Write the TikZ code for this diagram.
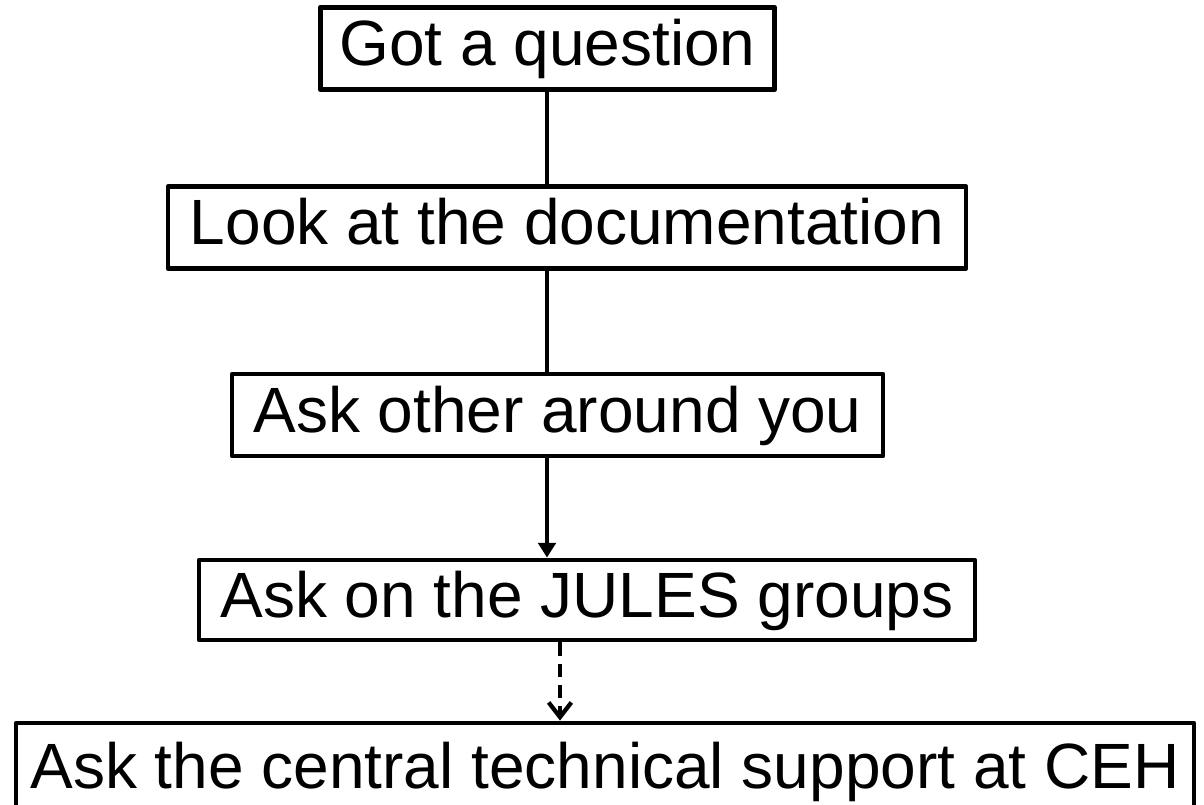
\documentclass[tikz,border=0pt]{standalone}
\usepackage{fontspec}
\setmainfont{Liberation Sans}
\usetikzlibrary{arrows.meta}
\begin{document}
\begin{tikzpicture}[x=0.75pt,y=-0.75pt,
  stepbox/.style={draw=black, line width=3.6pt, fill=white, line join=round,
    inner sep=0pt, font=\fontsize{48}{50}\selectfont, text height=35pt, text depth=9pt},
  link/.style={draw=black, line width=3.2pt},
  solidarrow/.style={link, -{Triangle[width=13pt,length=11pt]}},
  dasharrow/.style={link, dash pattern=on 10pt off 6pt, -{Straight Barb[width=17pt,length=11pt,line width=3.2pt]}}]
\useasboundingbox (0,0) rectangle (1204,805);
\clip (0,0) rectangle (1204,805);
\node[stepbox, minimum width=341pt, minimum height=62pt] (q) at (547.5,48.5) {Got a question\hspace{6pt}};
\node[stepbox, minimum width=598.5pt, minimum height=61pt] (doc) at (567,227.5) {Look at the documentation};
\node[stepbox, minimum width=488.25pt, minimum height=61.5pt] (oth) at (557.5,415) {Ask other around you};
\node[stepbox, minimum width=582pt, minimum height=60pt] (jul) at (587,600) {Ask on the JULES groups};
\node[stepbox, minimum width=883.5pt, minimum height=72pt] (ceh) at (605,771) {Ask the central technical support at CEH};
\coordinate (a1) at (547,0);
\coordinate (a2) at (560,0);
\draw[link] (q.south -| a1) -- (doc.north -| a1);
\draw[link] (doc.south -| a1) -- (oth.north -| a1);
\draw[solidarrow] (oth.south -| a1) -- (jul.north -| a1);
\draw[dasharrow] (jul.south -| a2) -- (ceh.north -| a2);
\end{tikzpicture}
\end{document}
